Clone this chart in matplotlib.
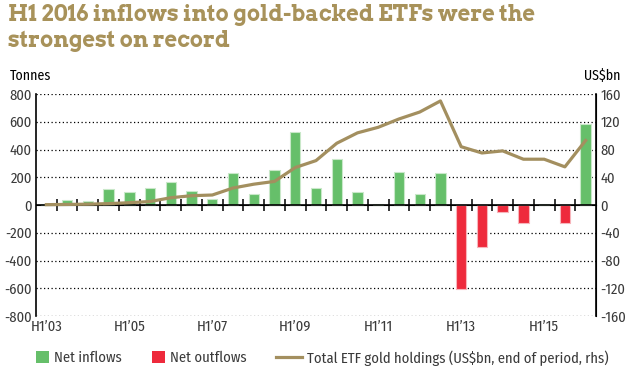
import numpy as np
import matplotlib
matplotlib.use("Agg")
import matplotlib.pyplot as plt
from matplotlib.patches import Patch
from matplotlib.lines import Line2D

# half-year periods H1'03 .. H1'16
periods = [f"H{h}'{y:02d}" for y in range(3, 17) for h in (1, 2)][:-1]
tick_labels = ["H1\u201903", "H1\u201905", "H1\u201907", "H1\u201909",
               "H1\u201911", "H1\u201913", "H1\u201915"]
tick_periods = ["H1'03", "H1'05", "H1'07", "H1'09", "H1'11", "H1'13", "H1'15"]

# net flows, tonnes
flows = [4, 35, 28, 113, 94, 125, 166, 98, 41, 228, 77, 250, 526, 125,
         334, 96, 7, 240, 79, 233, -607, -304, -48, -131, 6, -127, 581]
# total ETF gold holdings, US$bn end of period
holdings = [0.5, 0.8, 1.2, 2, 3.3, 5, 10.5, 13.4, 14.4, 24.5, 30, 34, 54, 64,
            89, 104, 112, 124, 134, 150, 84, 75, 78, 66, 66, 55, 93]

GREEN, GREEN_EDGE = "#66bf6a", "#c9e8c9"
RED, RED_EDGE = "#ee2a3c", "#f7b5bb"
GOLD = "#a38f5f"
TXT = "#3a3a3a"
FONT = ["Fira Sans Condensed", "Liberation Sans", "DejaVu Sans"]

plt.rcParams["font.family"] = FONT

fig = plt.figure(figsize=(6.38, 3.79), dpi=100)
ax = fig.add_axes([36 / 638, 1 - 316 / 379, 560 / 638, 222 / 379])

x = np.arange(len(periods))
vals = np.array(flows)
pos = vals >= 0
ax.bar(x[pos], vals[pos], width=0.5, color=GREEN, edgecolor=GREEN_EDGE, lw=0.8, zorder=3)
ax.bar(x[~pos], vals[~pos], width=0.5, color=RED, edgecolor=RED_EDGE, lw=0.8, zorder=3)

ax.set_xlim(-0.5, len(periods) - 0.5)
ax.set_ylim(-800, 800)
ax.set_yticks(np.arange(-800, 801, 200))
ax.set_yticklabels([str(v) for v in range(-800, 801, 200)])
for v in range(-800, 801, 200):
    if v != 0:
        ax.axhline(v, color="black", lw=0.9, ls=(0, (1, 2)), zorder=1)
ax.axhline(0, color="black", lw=1.2, zorder=4)

ax.set_xticks([periods.index(p) for p in tick_periods])
ax.set_xticklabels(tick_labels)
ax.tick_params(axis="x", length=0, pad=3, labelsize=10.5, labelcolor=TXT)
ax.tick_params(axis="y", length=0, pad=3, labelsize=10.5, labelcolor=TXT)
for s in ("top", "bottom"):
    ax.spines[s].set_visible(False)
ax.spines["left"].set_linewidth(1.2)

# period boundary ticks on the zero line
sec = ax.secondary_xaxis(0.5)
sec.set_xticks(np.arange(0.5, len(periods) - 1, 1.0))
sec.tick_params(axis="x", direction="inout", length=8, width=1.1, labelbottom=False)
sec.set_xticklabels([])
sec.spines["bottom"].set_visible(False)

ax2 = ax.twinx()
ax2.plot(x, holdings, color=GOLD, lw=2.3, zorder=5, solid_joinstyle="round")
ax2.set_ylim(-160, 160)
ax2.set_yticks(np.arange(-160, 161, 40))
ax2.set_yticklabels([str(v) for v in range(-160, 161, 40)])
ax2.tick_params(axis="y", length=0, pad=3, labelsize=10.5, labelcolor=TXT)
for s in ("top", "bottom", "left"):
    ax2.spines[s].set_visible(False)
ax2.spines["right"].set_linewidth(1.2)
ax2.set_zorder(ax.get_zorder() + 1)
ax2.patch.set_visible(False)

fig.text(10 / 638, 1 - 76 / 379, "Tonnes", fontsize=10, color="black", va="center")
fig.text(584 / 638, 1 - 76 / 379, "US$bn", fontsize=10, color="black", va="center")

fig.text(8 / 638, 1 - 4 / 379, "H1 2016 inflows into gold-backed ETFs were the\nstrongest on record",
         family=["Arvo", "DejaVu Serif"], weight="bold", fontsize=15.7, color="#a8925a",
         va="top", ha="left", linespacing=1.25)

# legend: one entry per box so squares and the line get their own handle sizes
entries = [
    (Patch(facecolor=GREEN, edgecolor="none"), "Net inflows", 36, 0.9),
    (Patch(facecolor=RED, edgecolor="none"), "Net outflows", 152, 0.9),
    (Line2D([], [], color=GOLD, lw=2.3), "Total ETF gold holdings (US$bn, end of period, rhs)", 276, 1.8),
]
for handle, label, xpix, hl in entries:
    fig.legend([handle], [label], loc="center left",
               bbox_to_anchor=(xpix / 638, 1 - 358 / 379), frameon=False,
               fontsize=10.5, handlelength=hl, handleheight=0.9, handletextpad=0.35,
               borderpad=0, borderaxespad=0, labelcolor=TXT)

fig.savefig("out.png", dpi=100)
